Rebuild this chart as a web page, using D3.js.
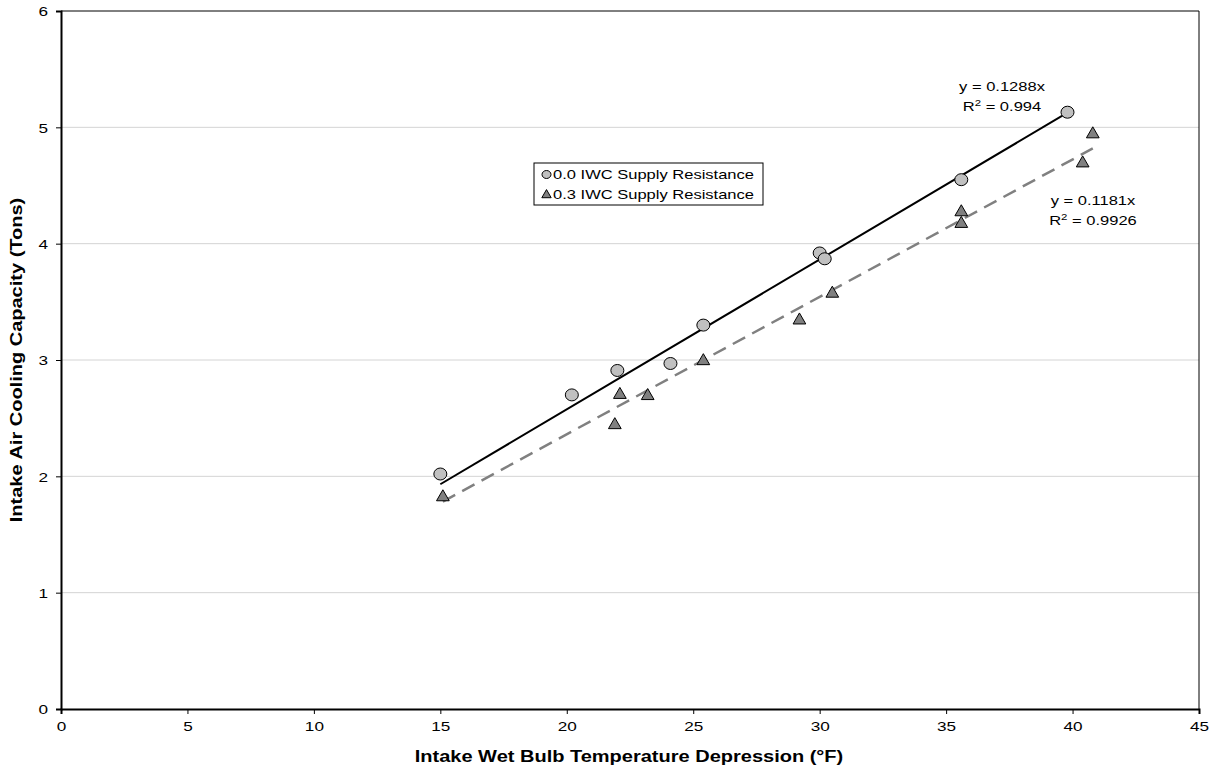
<!DOCTYPE html>
<html>
<head>
<meta charset="utf-8">
<script src="https://cdn.jsdelivr.net/npm/d3@7"></script>
<style>
  body { margin: 0; background: #fff; }
  text { font-family: Arial, "Liberation Sans", sans-serif; }
</style>
</head>
<body>
<svg id="chart"></svg>
<script>
const xTicks = [0, 5, 10, 15, 20, 25, 30, 35, 40, 45];
const yTicks = [0, 1, 2, 3, 4, 5, 6];

// 0.0 IWC supply resistance
const noResX = [15.0, 20.2, 22.0, 24.1, 25.4, 30.0, 30.2, 35.6, 39.8];
const noResY = [2.02, 2.70, 2.91, 2.97, 3.30, 3.92, 3.87, 4.55, 5.13];
// 0.3 IWC supply resistance
const resX = [15.1, 21.9, 22.1, 23.2, 25.4, 29.2, 30.5, 35.6, 35.6, 40.4, 40.8];
const resY = [1.83, 2.45, 2.71, 2.70, 3.00, 3.35, 3.58, 4.28, 4.18, 4.70, 4.95];

const slopes = [0.1288, 0.1181];
const r2s = ["0.994", "0.9926"];
const seriesNames = ["0.0 IWC Supply Resistance", "0.3 IWC Supply Resistance"];

const W = 1219, H = 772;
const margin = { top: 11, right: 20, bottom: 63, left: 61 },
  width = W - margin.left - margin.right,
  height = H - margin.top - margin.bottom;

// the original text is drawn a bit wide
const STRETCH = 1.27;
function stretch(sel, k) {
  sel.each(function () {
    const len = this.getComputedTextLength();
    d3.select(this).attr("textLength", len * k).attr("lengthAdjust", "spacingAndGlyphs");
  });
}

const svg = d3.select("#chart").attr("width", W).attr("height", H)
  .append("g")
  .attr("transform", `translate(${margin.left},${margin.top})`);

const x = d3.scaleLinear().domain([0, 45]).range([0, width]);
const y = d3.scaleLinear().domain([0, 6]).range([height, 0]);

// gridlines
svg.selectAll(".grid")
  .data(yTicks.filter((d) => d > 0 && d < 6))
  .enter()
  .append("line")
  .attr("x1", 0).attr("x2", width)
  .attr("y1", (d) => y(d)).attr("y2", (d) => y(d))
  .attr("stroke", "#d4d4d4").attr("stroke-width", 1);

// frame top/right
svg.append("line").attr("x1", 0).attr("x2", width).attr("y1", 0).attr("y2", 0)
  .attr("stroke", "#000").attr("stroke-width", 1);
svg.append("line").attr("x1", width).attr("x2", width).attr("y1", 0).attr("y2", height)
  .attr("stroke", "#000").attr("stroke-width", 1);

const xAxis = svg.append("g")
  .attr("transform", `translate(0,${height})`)
  .call(d3.axisBottom(x).tickValues(xTicks).tickFormat(d3.format("d")).tickSize(5).tickPadding(7));
const yAxis = svg.append("g")
  .call(d3.axisLeft(y).tickValues(yTicks).tickFormat(d3.format("d")).tickSize(5).tickPadding(8));

[xAxis, yAxis].forEach((a) => {
  a.select(".domain").attr("stroke", "#000").attr("stroke-width", 2);
  a.selectAll("text").style("font-size", "13.5px").attr("fill", "#000");
  stretch(a.selectAll("text"), STRETCH);
});
yAxis.selectAll("text").attr("dy", "0.35em");

// trendlines
const line = d3.line().x((d) => x(d[0])).y((d) => y(d[1]));
const trend1 = [d3.min(noResX), d3.max(noResX)].map((v) => [v, v * slopes[0]]);
const trend2 = [d3.min(resX), d3.max(resX)].map((v) => [v, v * slopes[1]]);

svg.append("path").datum(trend2).attr("d", line)
  .attr("fill", "none").attr("stroke", "#808080")
  .attr("stroke-width", 2.5).attr("stroke-dasharray", "14,8");
svg.append("path").datum(trend1).attr("d", line)
  .attr("fill", "none").attr("stroke", "#000").attr("stroke-width", 2);

// markers
const tri = d3.symbol().type(d3.symbolTriangle).size(70);

svg.selectAll(".circ")
  .data(noResX.map((v, i) => [v, noResY[i]]))
  .enter()
  .append("ellipse")
  .attr("cx", (d) => x(d[0])).attr("cy", (d) => y(d[1]))
  .attr("rx", 6.5).attr("ry", 6)
  .attr("fill", "#c0c0c0").attr("stroke", "#000").attr("stroke-width", 1);

svg.selectAll(".tri")
  .data(resX.map((v, i) => [v, resY[i]]))
  .enter()
  .append("path")
  .attr("d", tri)
  .attr("transform", (d) => `translate(${x(d[0])},${y(d[1]) + 1})`)
  .attr("fill", "#808080").attr("stroke", "#000").attr("stroke-width", 1);

// equation labels
function eqLabel(cx, cy, slope, r2) {
  const g = svg.append("g").style("font-size", "13px");
  g.append("text").attr("x", cx).attr("y", cy).attr("text-anchor", "middle")
    .text(`y = ${slope}x`);
  const t = g.append("text").attr("x", cx).attr("y", cy + 20).attr("text-anchor", "middle");
  t.append("tspan").text("R");
  t.append("tspan").attr("dy", -5).style("font-size", "9px").text("2");
  t.append("tspan").attr("dy", 5).text(` = ${r2}`);
  stretch(g.selectAll("text"), STRETCH);
}
eqLabel(1002 - margin.left, 91 - margin.top, slopes[0], r2s[0]);
eqLabel(1093 - margin.left, 205 - margin.top, slopes[1], r2s[1]);

// legend
const legend = svg.append("g").attr("transform", `translate(${534 - margin.left},${163 - margin.top})`);
legend.append("rect").attr("width", 229).attr("height", 42)
  .attr("fill", "#fff").attr("stroke", "#000").attr("stroke-width", 1);
legend.append("ellipse").attr("cx", 12.5).attr("cy", 11.5).attr("rx", 4.5).attr("ry", 4)
  .attr("fill", "#c0c0c0").attr("stroke", "#000");
legend.append("path").attr("d", d3.symbol().type(d3.symbolTriangle).size(38))
  .attr("transform", "translate(12.5,32)")
  .attr("fill", "#808080").attr("stroke", "#000");
seriesNames.forEach((n, i) => {
  legend.append("text").attr("x", 19).attr("y", 11.5 + i * 20).attr("dy", "0.35em")
    .style("font-size", "13px").text(n);
});
stretch(legend.selectAll("text"), STRETCH);

// axis titles
const xt = svg.append("text")
  .attr("x", 629 - margin.left).attr("y", 762 - margin.top)
  .attr("text-anchor", "middle")
  .style("font-size", "16px").style("font-weight", "bold")
  .text("Intake Wet Bulb Temperature Depression (°F)");
const yt = svg.append("text")
  .attr("transform", "rotate(-90)")
  .attr("x", -height / 2).attr("y", 22 - margin.left)
  .attr("text-anchor", "middle")
  .style("font-size", "16px").style("font-weight", "bold")
  .text("Intake Air Cooling Capacity (Tons)");
stretch(xt, 1.25);
stretch(yt, 1.25);
</script>
</body>
</html>
